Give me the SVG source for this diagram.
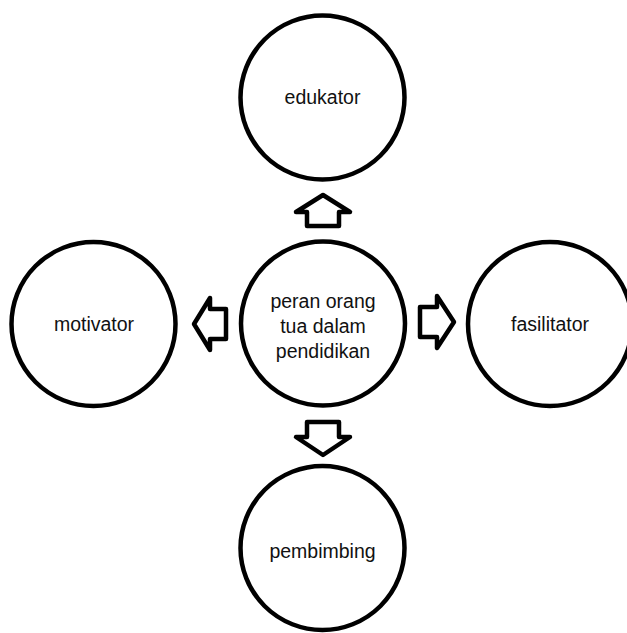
<svg xmlns="http://www.w3.org/2000/svg" width="627" height="633" viewBox="0 0 627 633">
<style>
.node circle{fill:#fff;stroke:#000;stroke-width:4.5}
.node text{font-family:"Liberation Sans",Arial,sans-serif;font-size:19.5px;fill:#111;text-anchor:middle}
.conn polygon{fill:#fff;stroke:#000;stroke-width:4.5;stroke-linejoin:round}
</style>
<rect width="627" height="633" fill="#fff"/>
<g id="connectors" class="conn">
<polygon points="323,195 350,212 339,212 339,226 307,226 307,212 296,212"/>
<polygon points="307,422 339,422 339,437 350,437 323,455 296,437 307,437"/>
<polygon points="194,324 210,298 210,309 226,309 226,339 210,339 210,350"/>
<polygon points="420,307 437,307 437,296 454,322 437,348 437,337 420,337"/>
</g>
<g id="edukator" class="node"><circle cx="322.5" cy="97.5" r="82"/><text x="322.5" y="104">edukator</text></g>
<g id="peran" class="node"><circle cx="323" cy="323.5" r="82"/><text x="323" y="308">peran orang</text><text x="323" y="333">tua dalam</text><text x="323" y="358">pendidikan</text></g>
<g id="motivator" class="node"><circle cx="93.5" cy="324" r="82"/><text x="94" y="331">motivator</text></g>
<g id="fasilitator" class="node"><circle cx="550" cy="324" r="82"/><text x="550" y="331">fasilitator</text></g>
<g id="pembimbing" class="node"><circle cx="322.5" cy="548" r="82"/><text x="322.5" y="558">pembimbing</text></g>
</svg>
